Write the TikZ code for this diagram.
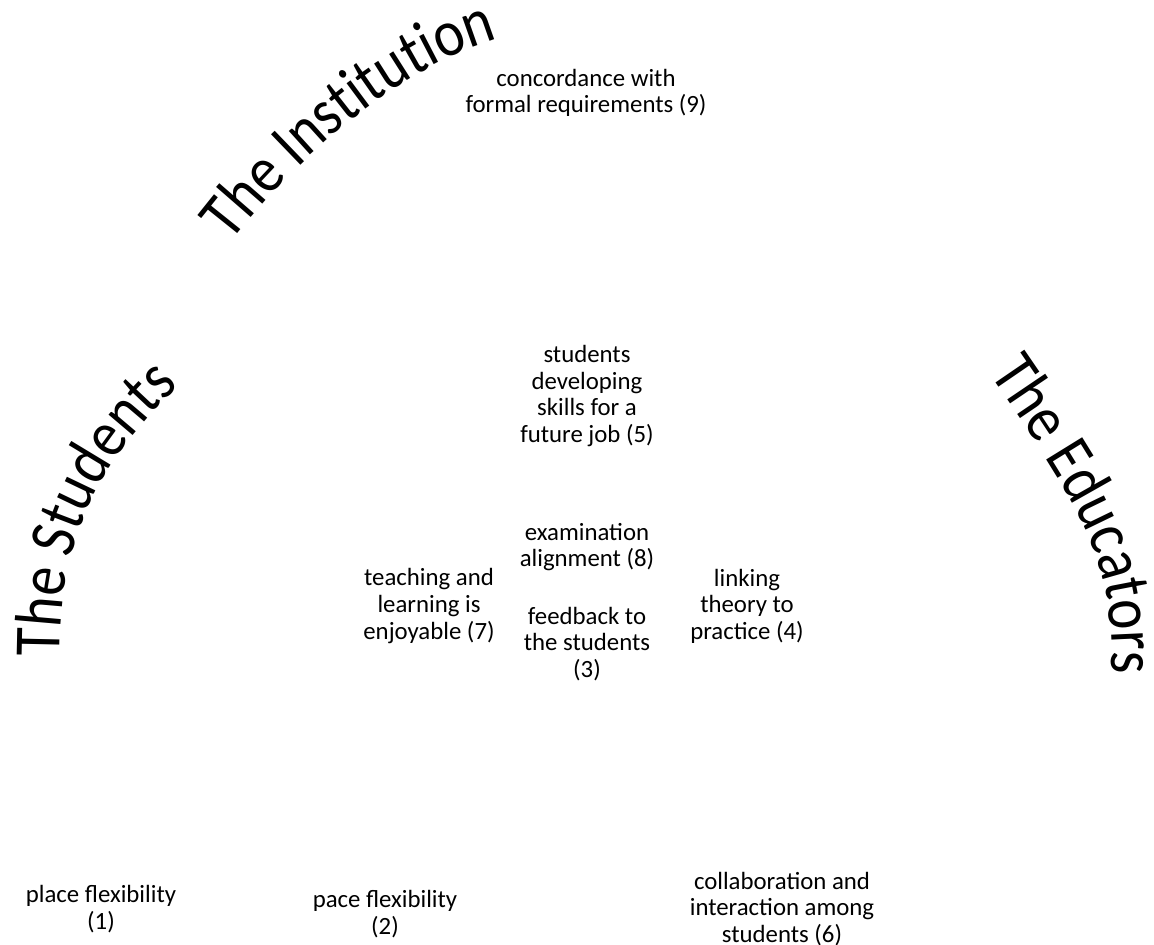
\documentclass[tikz,border=0pt]{standalone}
\usepackage{fontspec}
\setmainfont{Carlito}
\newfontfamily\arcfam[FakeStretch=0.87]{Carlito}
\usetikzlibrary{decorations.text}
\newcommand\arcfont{\arcfam\fontsize{33}{34}\selectfont}
\begin{document}
\begin{tikzpicture}[x=0.5pt,y=0.5pt,
  lbl/.style={align=center, font=\fontsize{12.4}{13.3}\selectfont, inner sep=0pt, text=black}]
\path[use as bounding box, fill=white] (0,0) rectangle (1154,-945);

% curved headings
\coordinate (s0) at (60,-654);
\coordinate (s1) at (60,-540);
\coordinate (s2) at (97,-465);
\coordinate (s3) at (177,-388);
\path[decorate, decoration={text along path, text align=center,
  text={|\arcfont|The Students}}] (s0) .. controls (s1) and (s2) .. (s3);

\coordinate (i0) at (230,-244);
\coordinate (i1) at (301,-151);
\coordinate (i2) at (404,-66);
\coordinate (i3) at (500,-38);
\path[decorate, decoration={text along path, text align=center,
  text={|\arcfont|The Institution}}] (i0) .. controls (i1) and (i2) .. (i3);

\coordinate (e0) at (993,-379);
\coordinate (e1) at (1087,-516);
\coordinate (e2) at (1112,-560);
\coordinate (e3) at (1112,-668);
\path[decorate, decoration={text along path, text align=center,
  text={|\arcfont|The Educators}}] (e0) .. controls (e1) and (e2) .. (e3);

% labels
\node[lbl] (n9) at (586,-93) {concordance with\\formal requirements (9)};
\node[lbl] (n5) at (587,-396) {students\\developing\\skills for a\\future job (5)};
\node[lbl] (n8) at (587,-547) {examination\\alignment (8)};
\node[lbl] (n7) at (429,-606) {teaching and\\learning is\\enjoyable (7)};
\node[lbl] (n3) at (587,-644) {feedback to\\the students\\(3)};
\node[lbl] (n4) at (747,-606) {linking\\theory to\\practice (4)};
\node[lbl] (n1) at (101,-909) {place flexibility\\(1)};
\node[lbl] (n2) at (385,-914) {pace flexibility\\(2)};
\node[lbl] (n6) at (782,-909) {collaboration and\\interaction among\\students (6)};
\end{tikzpicture}
\end{document}
